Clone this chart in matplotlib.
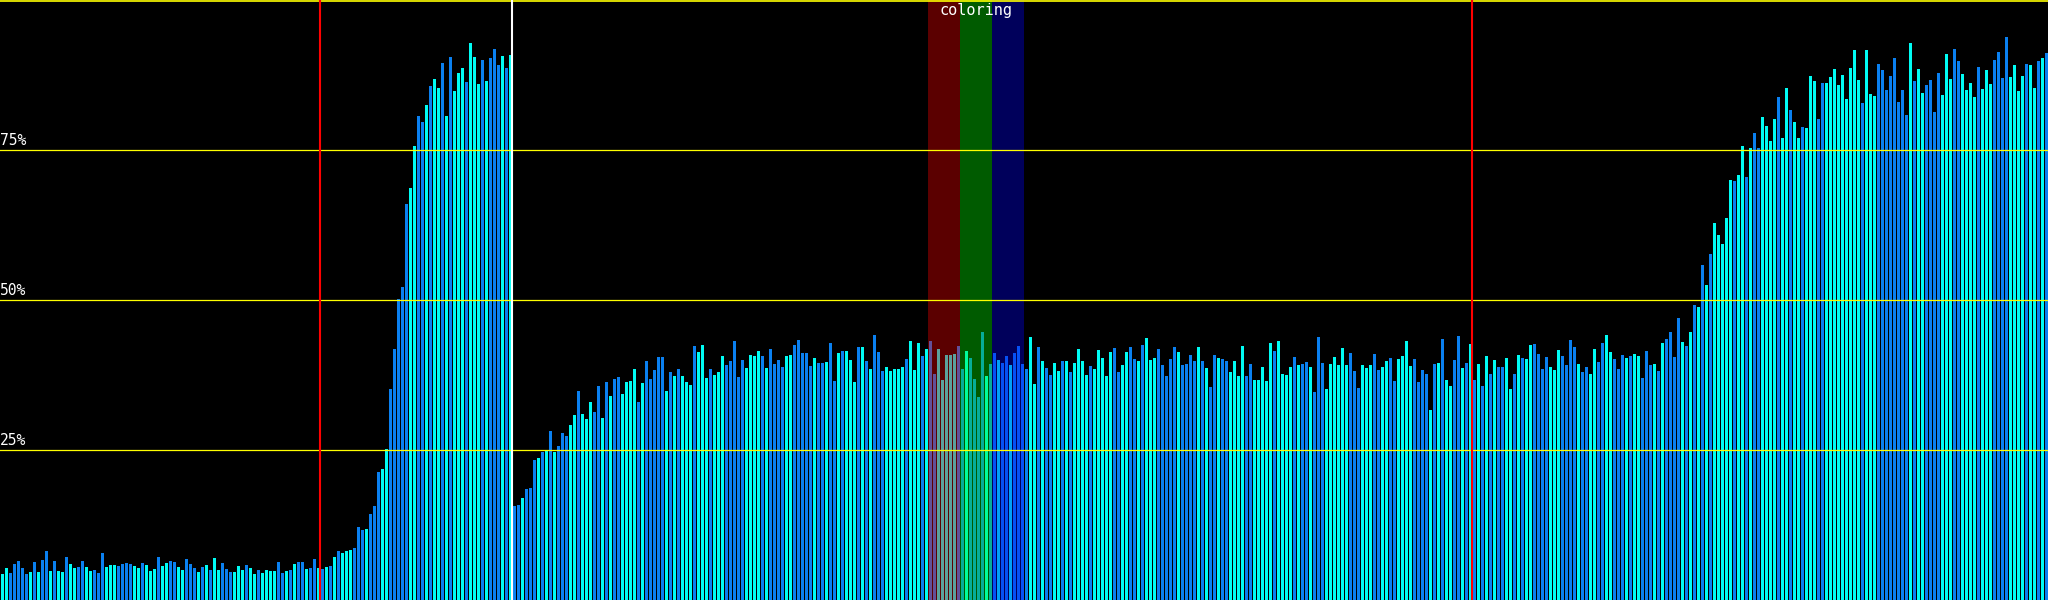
import matplotlib
matplotlib.use('Agg')
import matplotlib.pyplot as plt
import numpy as np

# bar heights in percent in blocks of bars
load_a = [4.3, 5.3, 4.5, 6.0, 6.5, 5.3, 4.3, 4.7, 6.3, 4.7,
          6.7, 8.2, 4.8, 6.5, 4.8, 4.7, 7.2, 6.0, 5.3, 5.5,
          6.5, 5.5, 4.8, 5.0, 4.5, 7.8, 5.5, 5.8, 5.8, 5.7,
          6.0, 6.2, 6.0, 5.7, 5.3, 6.2, 5.8, 4.8, 5.2, 7.2,
          5.7, 6.2, 6.5, 6.3, 5.5, 5.0, 6.8, 6.0, 5.3, 4.7,
          5.5, 5.8, 5.0, 7.0, 5.0, 6.2, 5.2, 4.7, 4.7, 5.7,
          5.0, 5.8, 5.3, 4.3, 5.0, 4.5, 5.0, 4.8, 4.8, 6.3,
          4.5, 4.8, 5.0, 6.0, 6.3, 6.3, 5.2, 5.3, 6.8, 5.3]
load_b = [5.2, 5.5, 5.7, 7.1, 8.2, 7.8, 8.2, 8.4, 8.7, 12.2,
          11.7, 11.9, 14.3, 15.7, 21.4, 21.8, 25.2, 35.1, 41.8, 50.2,
          52.2, 66.0, 68.7, 75.6, 80.7, 79.7, 82.5, 85.6, 86.9, 85.3,
          89.5, 80.7, 90.5, 84.8, 87.8, 88.7, 86.4, 92.9, 90.5, 86.0,
          90.0, 86.5, 90.3, 91.8, 89.2, 90.7, 88.7, 90.8]
load_c = [15.7, 15.8, 17.0, 18.5, 18.7, 23.3, 23.7, 24.7, 25.0, 28.2,
          24.7, 25.7, 27.8, 27.3, 29.2, 30.8, 34.8, 31.0, 30.2, 33.0,
          31.3, 35.7, 30.3, 36.3, 34.0, 36.8, 37.2, 34.3, 36.3, 36.5,
          38.5, 33.0, 36.2, 39.8, 36.8, 38.3, 40.5, 40.5, 34.8, 38.0,
          37.3, 38.5, 37.3, 36.3, 35.8, 42.3, 41.3, 42.5, 37.0, 38.5,
          37.5, 38.0, 40.7, 39.2, 39.8, 43.2, 37.2, 40.0, 38.7, 40.8,
          40.7, 41.5, 40.7, 38.7, 41.8, 39.3, 40.0, 38.8, 40.7, 40.8,
          42.5, 43.3, 41.2, 41.2, 39.0, 40.3, 39.5, 39.5, 39.7, 42.8,
          36.5, 41.2, 41.5, 41.5, 40.0, 36.3, 42.2, 42.2, 39.8, 38.5,
          44.2, 41.3]
load_d = [38.2, 38.8, 38.2, 38.5, 38.5, 38.8, 40.2, 43.2, 38.3, 42.8,
          40.7, 41.8, 43.2, 37.7, 41.8, 36.7, 40.8, 40.8, 41.0, 42.3,
          38.5, 41.5, 40.3, 36.8, 33.8, 44.7, 37.3, 39.3, 41.2, 40.0,
          39.5, 40.7, 39.2, 41.2, 42.3, 39.3, 38.5, 43.8, 36.0, 42.2,
          39.8, 38.7, 37.5, 39.5, 38.2, 39.8, 39.8, 38.0, 39.5, 41.8]
load_e = [39.8, 37.5, 39.0, 38.5, 41.7, 40.3, 37.3, 41.3, 42.0, 38.0,
          39.2, 41.3, 42.2, 40.2, 39.8, 42.5, 43.7, 40.0, 40.3, 41.8,
          39.2, 37.3, 40.2, 42.2, 41.3, 39.2, 39.3, 40.8, 39.8, 42.2,
          39.8, 38.7, 35.5, 40.8, 40.3, 40.2, 39.8, 38.0, 39.8, 37.3,
          42.3, 37.3, 39.3, 36.7, 36.7, 38.8, 36.5, 42.8, 41.5, 43.2,
          37.7, 37.5, 38.8, 40.5, 39.2, 39.3, 39.7, 38.8, 34.7, 43.8,
          39.5, 35.2, 39.3, 40.5, 39.2, 42.0, 39.2, 41.2, 38.2, 35.3,
          39.2, 38.7, 39.2, 41.0, 38.3, 38.8, 39.8, 40.3, 36.5, 40.2]
load_f = [40.7, 43.2, 39.0, 40.2, 36.3, 38.3, 37.7, 31.7, 39.3, 39.5,
          43.5, 36.7, 35.7, 40.0, 44.0, 38.7, 39.5, 42.7, 36.7, 39.3,
          35.7, 40.7, 37.7, 40.0, 38.8, 38.8, 40.3, 35.2, 37.7, 40.8,
          40.3, 40.2, 42.5, 42.7, 41.0, 38.5, 40.5, 38.8, 38.3, 41.7,
          40.7, 39.2, 43.3, 42.2, 39.3, 38.0, 38.8, 37.7, 41.8, 39.7]
load_g = [42.8, 44.2, 41.3, 40.2, 38.5, 40.8, 40.3, 40.7, 41.0, 40.7,
          37.0, 41.5, 39.2, 39.3, 38.2, 42.8, 43.5, 44.7, 40.5, 47.0,
          43.0, 42.3, 44.7, 49.2, 48.8, 55.8, 52.5, 57.7, 62.8, 60.8,
          59.3, 63.7, 70.0, 69.8, 70.8, 75.6, 70.5, 75.3, 77.8, 75.3,
          80.5, 79.0, 76.5, 80.2, 83.9, 77.0, 85.3, 81.7, 79.7, 77.0]
load_h = [78.8, 78.7, 87.3, 86.5, 80.2, 86.2, 86.2, 87.2, 88.5, 85.8,
          87.5, 83.5, 88.7, 91.7, 86.7, 82.8, 91.7, 84.3, 84.0, 89.3,
          88.3, 85.0, 87.3, 90.3, 83.0, 85.0, 80.8, 92.8, 86.5, 88.5,
          84.5, 85.8, 86.7, 81.3, 87.8, 84.2, 91.0, 86.8, 91.8, 89.8,
          87.7, 85.0, 86.2, 83.8, 88.8, 85.2, 88.3, 86.0, 90.0, 91.3,
          87.0, 93.8, 87.2, 89.2, 84.8, 87.3, 89.3, 89.2, 85.3, 89.8,
          90.3, 91.2]

# bar colour per bar, same blocks: c = cyan, b = blue
kind_a = ('ccbbbbbcbc' 'bbcbccbccb' 'bccbbbcccb' 'bbbccbcccb'
          'ccbbccbbbc' 'bcbccbbbcc' 'cbccbccccb' 'bcbcbbcbbc')
kind_b = 'bcbcbcccbb' 'bcbbbccbbb' 'bbccbbcbcc' 'bcbcccbccc' 'bcbbbcbc'
kind_c = ('bbcbbbcbcb' 'cbbbccbccc' 'bbcbcbbccc' 'cbcbbbbbcb' 'cbcccbcccb'
          'cccbbbbbcc' 'ccbcbbbbcc' 'bbbbbcbbcb' 'bcbcccbcbc' 'bb')
kind_d = 'bcccccbccc' 'bcbbcccccb' 'bcbbbbcbbc' 'bbcbbbbccb' 'cbbccbcbcc'
kind_e = ('ccbcccccbb' 'ccbbcbcccb' 'bbbbcbbbbc' 'bcbbcbbccc'
          'cbbcccccbc' 'cccbcbbcbb' 'bccccccbbb' 'cccbbccbbc')
kind_f = 'cccbbbbcbc' 'bccbbcbcbc' 'bcbcbbccbc' 'bccbbbbccc' 'bbbbcbbccb'
kind_g = 'bccbbbcbcc' 'bbbcbcbbbb' 'cbcbcbcbcc' 'cccbccbcbb' 'ccccbccbcc'
kind_h = ('bcccbbcccc' 'cccccbcccb' 'bbbbbbbcbc' 'cbbbbcccbb'
          'ccccbcccbb' 'bbccccbccb' 'cb')

markers = [80, 368]      # red event lines
cursor = 128             # white line
band_start = 232         # red / green / blue 'coloring' bands
band_len = 8
grid_levels = [25, 50, 75]

loads = load_a + load_b + load_c + load_d + load_e + load_f + load_g + load_h
kinds = kind_a + kind_b + kind_c + kind_d + kind_e + kind_f + kind_g + kind_h

palette = {'c': '#00fcf4', 'b': '#0a80f0'}
colors = [palette[k] for k in kinds]
nb_bars = len(loads)

fig = plt.figure(figsize=(20.48, 6), dpi=100, facecolor='black')
ax = fig.add_axes([0, 0, 1, 1])
ax.set_facecolor('black')
ax.set_xlim(0, nb_bars)
ax.set_ylim(0, 100)
ax.axis('off')

ax.bar(np.arange(nb_bars) + 0.25, loads, width=0.75, align='edge',
       color=colors, linewidth=0, zorder=1)

for i, band_color in enumerate(['#ff0000', '#00ff00', '#0000ff']):
    left = band_start + i * band_len
    ax.axvspan(left, left + band_len, color=band_color, alpha=0.36, lw=0, zorder=2)

for level in grid_levels:
    ax.axhline(level, color='#ffff00', lw=0.9, zorder=3)
    ax.text(0, level + 0.3, '{}%'.format(level), color='white', fontsize=10.5,
            family='DejaVu Sans Mono', ha='left', va='bottom', zorder=4)
ax.axhline(99.85, color='#ffff00', lw=1.2, zorder=3)

for m in markers:
    ax.axvline(m, color='#ff0000', lw=1.5, zorder=3)
ax.axvline(cursor, color='white', lw=1.5, zorder=3)

ax.text(band_start + 1.5 * band_len, 98.2, 'coloring', color='white', fontsize=11,
        family='DejaVu Sans Mono', ha='center', va='center', zorder=4)

fig.savefig('out.png', dpi=100, facecolor='black')
